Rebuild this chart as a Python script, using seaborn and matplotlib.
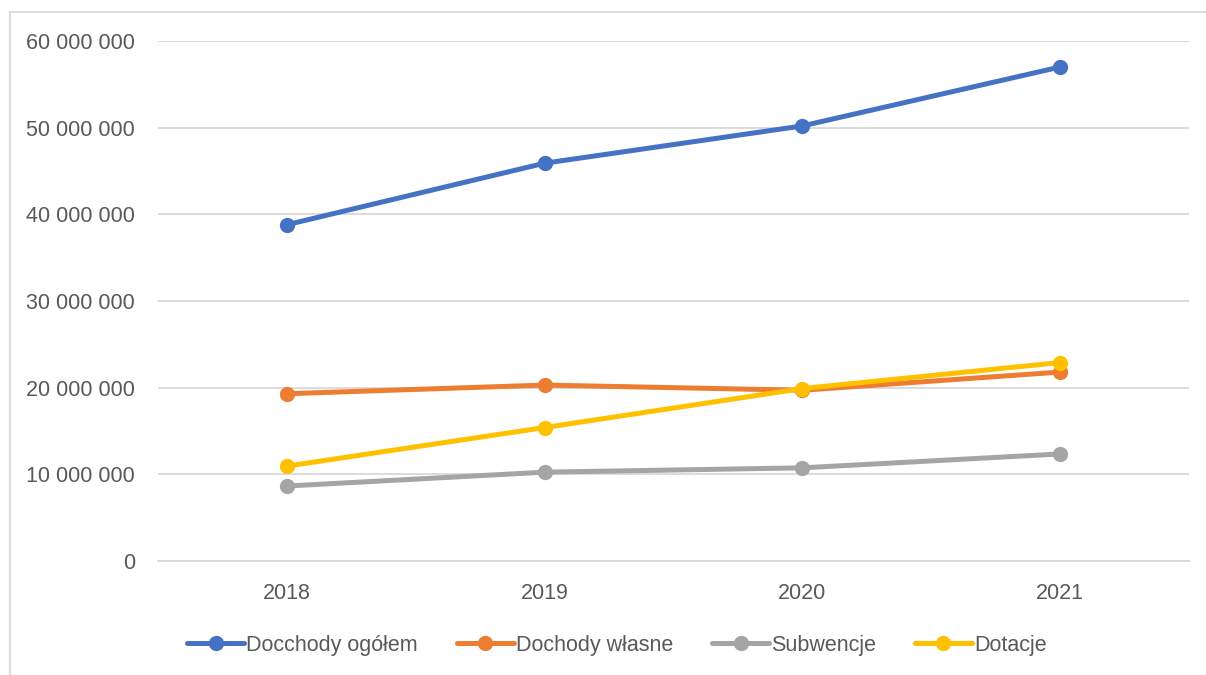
import numpy as np
import pandas as pd
import matplotlib
matplotlib.use('Agg')
import matplotlib.pyplot as plt
import matplotlib.ticker as mticker
from matplotlib.lines import Line2D
import seaborn as sns

# data
years = ['2018', '2019', '2020', '2021']
series_names = ['Docchody ogółem', 'Dochody własne', 'Subwencje', 'Dotacje']
dochody_ogolem = [38800000, 45900000, 50200000, 57000000]
dochody_wlasne = [19300000, 20300000, 19700000, 21800000]
subwencje = [8650000, 10250000, 10750000, 12350000]
dotacje = [10950000, 15400000, 19900000, 22900000]
colors = ['#4472C4', '#ED7D31', '#A5A5A5', '#FFC000']

# long format table for seaborn
df = pd.DataFrame({
    'rok': years * 4,
    'seria': np.repeat(series_names, len(years)),
    'wartosc': dochody_ogolem + dochody_wlasne + subwencje + dotacje,
})

sns.set_style('white')
plt.rcParams['font.family'] = ['Liberation Sans', 'DejaVu Sans']

fig = plt.figure(figsize=(12.06, 6.75), dpi=100)
ax = fig.add_axes([158/1206, 1-561/675, (1189-158)/1206, (561-41)/675])

sns.lineplot(data=df, x='rok', y='wartosc', hue='seria', hue_order=series_names,
             palette=colors, marker='o', markersize=11, markeredgewidth=0,
             linewidth=3.6, ax=ax, legend=False, sort=False)

ax.set_xlim(-0.5, 3.5)
ax.set_ylim(0, 60000000)
ax.yaxis.set_major_locator(mticker.MultipleLocator(10000000))
ax.yaxis.set_major_formatter(mticker.FuncFormatter(lambda v, p: f'{int(v):,}'.replace(',', ' ')))
ax.grid(axis='y', color='#d9d9d9', linewidth=1.3)
ax.set_axisbelow(True)
for s in ['top', 'right', 'left']:
    ax.spines[s].set_visible(False)
ax.spines['bottom'].set_color('#d9d9d9')
ax.spines['bottom'].set_linewidth(1.3)
ax.tick_params(axis='both', length=0, labelsize=15.5, labelcolor='#595959')
ax.tick_params(axis='y', pad=16.5)
ax.tick_params(axis='x', pad=16)
ax.set_xlabel('')
ax.set_ylabel('')

handles = [Line2D([0], [0], color=c, linewidth=3.6, marker='o', markersize=11, markeredgewidth=0)
           for c in colors]
fig.legend(handles, series_names, loc='center', bbox_to_anchor=(617/1206, 1-645/675),
           ncol=4, frameon=False, fontsize=15.5, labelcolor='#595959',
           handlelength=2.65, handletextpad=0.1, columnspacing=1.8)

# chart area border (top and left edges visible)
fig.add_artist(Line2D([10/1206, 1.0], [1-12/675, 1-12/675], color='#d9d9d9', linewidth=1.3,
                      transform=fig.transFigure))
fig.add_artist(Line2D([10/1206, 10/1206], [0.0, 1-12/675], color='#d9d9d9', linewidth=1.3,
                      transform=fig.transFigure))

plt.savefig('out.png', dpi=100)
